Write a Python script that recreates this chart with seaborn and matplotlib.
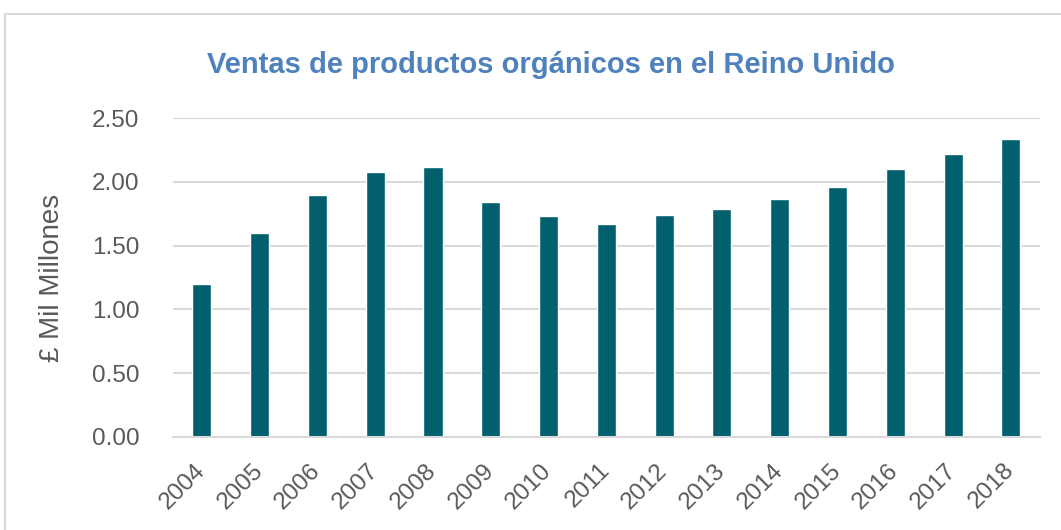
import pandas as pd
import seaborn as sns
import matplotlib.pyplot as plt
import matplotlib.transforms as mtransforms
from matplotlib.patches import Rectangle

# Data
years = ['2004', '2005', '2006', '2007', '2008', '2009', '2010', '2011',
         '2012', '2013', '2014', '2015', '2016', '2017', '2018']
sales = [1.20, 1.60, 1.90, 2.08, 2.12, 1.84, 1.73, 1.67,
         1.74, 1.79, 1.87, 1.96, 2.10, 2.22, 2.34]
y_ticks = [0.0, 0.5, 1.0, 1.5, 2.0, 2.5]

df = pd.DataFrame({'year': years, 'sales': sales})

sns.set_style('white')
plt.rcParams['font.family'] = ['Liberation Sans', 'DejaVu Sans']

fig = plt.figure(figsize=(10.61, 5.30), dpi=100)
ax = fig.add_axes([0.163, 0.1755, 0.817, 0.6015])

sns.barplot(data=df, x='year', y='sales', color='#02606E', width=0.33,
            saturation=1, ax=ax)

ax.set_ylim(0, 2.5)
ax.set_yticks(y_ticks)
ax.set_yticklabels([f"{v:.2f}" for v in y_ticks], fontsize=17.5, color='#595959')
ax.set_xticks(range(len(years)))
ax.set_xticklabels(years, rotation=45, ha='right', rotation_mode='anchor',
                   fontsize=17.5, color='#595959')
ax.tick_params(axis='y', length=0, pad=24)
ax.tick_params(axis='x', length=0, pad=16)
ax.set_xlim(-0.5, len(years) - 0.5)

# Nudge rotated year labels a bit to the left, as in the original
shift = mtransforms.ScaledTranslation(-8 / 100, 0, fig.dpi_scale_trans)
for label in ax.get_xticklabels():
    label.set_transform(label.get_transform() + shift)

# Gridlines
ax.yaxis.grid(True, color='#D9D9D9', linewidth=1.5)
ax.set_axisbelow(True)
for side in ['top', 'right', 'left']:
    ax.spines[side].set_visible(False)
ax.spines['bottom'].set_color('#D9D9D9')
ax.spines['bottom'].set_linewidth(1.5)

ax.set_xlabel('')
ax.set_ylabel('£ Mil Millones', fontsize=20, color='#595959')
ax.yaxis.set_label_coords(-0.125, 0.5)

fig.text(0.519, 0.862, 'Ventas de productos orgánicos en el Reino Unido',
         ha='center', va='baseline', fontsize=21, fontweight='bold',
         color='#4F81BD')

# Light chart border
fig.patches.append(Rectangle((0.0045, -0.02), 1.0, 0.994, transform=fig.transFigure,
                             fill=False, edgecolor='#D9D9D9', linewidth=1.5))

fig.savefig('out.png', dpi=100)
